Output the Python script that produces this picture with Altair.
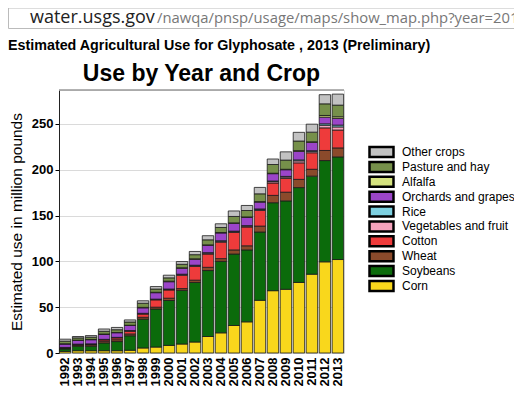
import altair as alt
import pandas as pd

years = [str(y) for y in range(1992, 2014)]
crops = ["Corn", "Soybeans", "Wheat", "Cotton", "Vegetables and fruit", "Rice",
         "Orchards and grapes", "Alfalfa", "Pasture and hay", "Other crops"]
colors = ["#F9D71C", "#0B6B0B", "#8B4A2B", "#EE3B3B", "#F5A3BC", "#7DD0E0",
          "#9B45C8", "#D5E37F", "#76904A", "#C2C2C2"]

corn = [1.8, 2.5, 2.5, 2.5, 2.5, 3, 5.5, 6.5, 8.3, 9.8, 12, 18, 22, 30, 34, 57.5, 68, 69.5, 77, 86, 99.5, 102]
soybeans = [2.6, 5, 5, 8.5, 10, 15.8, 31.5, 41.5, 49, 58.5, 65, 72, 78, 78, 78.5, 74.5, 96, 96.5, 103.5, 107, 110.5, 112]
wheat = [0.6, 1.2, 1.5, 1.8, 2, 2, 2, 2, 2.5, 2, 2.5, 3.5, 3, 4.5, 4.5, 6.5, 8, 9.5, 9, 7.5, 11, 9.8]
cotton = [0.6, 0.5, 0.5, 1.5, 2, 3, 3.5, 8, 9, 14.5, 15, 14.5, 18, 19, 20.5, 17, 13.5, 15, 18, 18, 24.7, 19.5]
vegetables = [0.3, 0.3, 0.3, 0.4, 0.4, 0.5, 0.5, 0.5, 0.6, 0.8, 0.8, 1, 1, 1, 1, 1.2, 1.5, 1.5, 2.2, 1.5, 2.8, 3.4]
rice = [0.2, 0.2, 0.2, 0.2, 0.2, 0.2, 0.3, 0.3, 0.4, 0.4, 0.5, 0.5, 0.5, 0.5, 0.5, 0.5, 0.7, 0.7, 1, 0.8, 1.6, 2]
orchards = [3.7, 4, 4.5, 5.5, 5, 5.5, 6, 7, 8, 6.5, 6.5, 8, 8.5, 8.5, 9, 7.5, 8, 7.3, 9.4, 9, 7.3, 7.3]
alfalfa = [0.3, 0.3, 0.3, 0.3, 0.3, 0.3, 0.5, 0.5, 0.6, 0.5, 0.5, 0.5, 0.5, 0.5, 0.5, 0.5, 0.5, 0.5, 0.7, 0.7, 1.8, 1.8]
pasture = [2.8, 2.5, 2.5, 3, 3, 3.5, 4.5, 3.5, 3.6, 3.8, 4.5, 5.5, 5.5, 7, 7, 8.5, 9.5, 10, 10.5, 10.5, 12.7, 12.7]
other = [2.2, 1.5, 1.7, 2.5, 2.5, 2.3, 2.7, 2.7, 2.9, 3, 3.5, 4.5, 4, 6, 5.5, 7, 6, 9, 9.5, 8.7, 10, 12]

series = [corn, soybeans, wheat, cotton, vegetables, rice, orchards, alfalfa, pasture, other]

rows = []
for ci, (crop, vals) in enumerate(zip(crops, series)):
    for y, v in zip(years, vals):
        rows.append({"year": y, "crop": crop, "use": v, "idx": ci})
df = pd.DataFrame(rows)

FONT = "Liberation Sans"
legend_order = crops[::-1]
legend_colors = colors[::-1]
color_scale = alt.Scale(domain=legend_order, range=legend_colors)

bars = alt.Chart(df).mark_bar(stroke="#1a1a1a", strokeWidth=0.8).encode(
    x=alt.X("year:O", sort=years, title=None,
            scale=alt.Scale(paddingInner=0.12, paddingOuter=0.03),
            axis=alt.Axis(labelAngle=270, labelAlign="right", labelBaseline="middle",
                          labelFontSize=13, labelFontWeight="bold", labelColor="black",
                          labelFont=FONT, ticks=False, domain=False, labelPadding=4)),
    y=alt.Y("use:Q", stack="zero", title="Estimated use in million pounds",
            scale=alt.Scale(domain=[0, 287], nice=False),
            axis=alt.Axis(values=[0, 50, 100, 150, 200, 250], labelFontSize=13,
                          labelFontWeight="bold",
                          labelColor="black", labelFont=FONT, titleFont=FONT,
                          titleFontSize=15.5, titleFontWeight="normal", titleColor="black",
                          titlePadding=7, tickSize=4, tickColor="black",
                          domainColor="#222", gridColor="#DADADA")),
    color=alt.Color("crop:N", scale=color_scale, legend=None),
    order=alt.Order("idx:Q", sort="ascending"),
)

# Hand-built legend (rectangular swatches), positioned by its own point scale
leg_df = pd.DataFrame({"crop": legend_order})
leg_y = alt.Y("crop:N", sort=legend_order, axis=None,
              scale=alt.Scale(type="point", domain=legend_order, range=[62, 196], padding=0))
leg_sym = alt.Chart(leg_df).mark_point(
    shape="M-2.4,-1H2.4V1H-2.4Z", size=100, filled=True, opacity=1,
    stroke="black", strokeWidth=2.5
).encode(x=alt.value(322.5), y=leg_y,
         color=alt.Color("crop:N", scale=color_scale, legend=None))
leg_txt = alt.Chart(leg_df).mark_text(
    align="left", baseline="middle", fontSize=12, font=FONT, color="black"
).encode(x=alt.value(343), y=leg_y, text="crop:N")

top_line = alt.Chart(pd.DataFrame({"a": [0]})).mark_rule(color="#999999", strokeWidth=1.5).encode(
    x=alt.value(0), x2=alt.value(285), y=alt.value(0))

url1 = alt.Chart(pd.DataFrame({"t": ["water.usgs.gov"]})).mark_text(
    align="left", baseline="alphabetic", fontSize=18, font="Open Sans", color="#222"
).encode(text="t:N", x=alt.value(-29), y=alt.value(-67))
url2 = alt.Chart(pd.DataFrame({"t": ["/nawqa/pnsp/usage/maps/show_map.php?year=2011&"]})).mark_text(
    align="left", baseline="alphabetic", fontSize=14.8, font="Open Sans", color="#777"
).encode(text="t:N", x=alt.value(98), y=alt.value(-67))
urlbox = alt.Chart(pd.DataFrame({"a": [0]})).mark_rect(
    fill="white", stroke="#BBBBBB", strokeWidth=1
).encode(x=alt.value(-50.5), x2=alt.value(470), y=alt.value(-82), y2=alt.value(-61.5))
page_title = alt.Chart(pd.DataFrame({"t": ["Estimated Agricultural Use for Glyphosate , 2013 (Preliminary)"]})).mark_text(
    align="left", baseline="middle", fontSize=14.3, font=FONT, fontWeight="bold", color="black"
).encode(text="t:N", x=alt.value(-51), y=alt.value(-44))
chart_title = alt.Chart(pd.DataFrame({"t": ["Use by Year and Crop"]})).mark_text(
    align="center", baseline="middle", fontSize=23, font=FONT, fontWeight="bold", color="black"
).encode(text="t:N", x=alt.value(142.5), y=alt.value(-16))

chart = alt.layer(urlbox, url1, url2, page_title, chart_title, bars, top_line,
                  leg_sym, leg_txt).resolve_scale(y="independent").properties(
    width=285, height=263,
    autosize=alt.AutoSizeParams(type="none"),
    padding={"left": 51, "top": 82, "right": 170, "bottom": 34},
).configure_view(stroke=None).configure(background="white")

chart.save("out.html", embed_options={"renderer": "svg", "actions": False})
